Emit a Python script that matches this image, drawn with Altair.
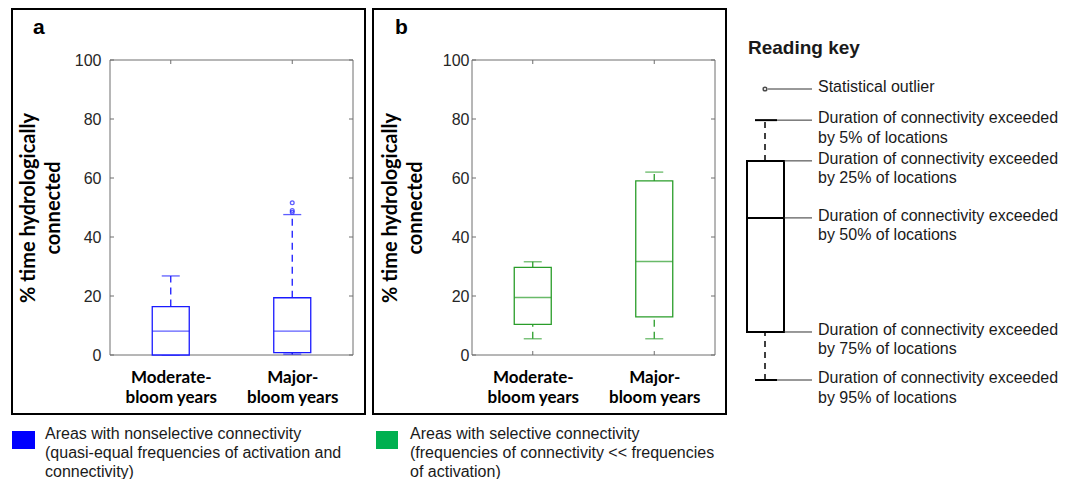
import altair as alt
import pandas as pd

# ---------------- data ----------------
categories = ["Moderate-bloom years", "Major-bloom years"]

# panel a (nonselective connectivity)
a_low = [0.0, 0.3]
a_q1 = [0.0, 0.8]
a_median = [8.1, 8.1]
a_q3 = [16.4, 19.4]
a_high = [26.8, 47.6]
a_outlier_cat = ["Major-bloom years", "Major-bloom years", "Major-bloom years"]
a_outlier_val = [51.6, 49.0, 48.4]

# panel b (selective connectivity)
b_low = [5.5, 5.5]
b_q1 = [10.4, 12.9]
b_median = [19.5, 31.7]
b_q3 = [29.7, 59.0]
b_high = [31.6, 62.0]

y_ticks = [0, 20, 40, 60, 80, 100]

# reading key (schematic levels)
key_levels = ["outlier", "p5", "p25", "p50", "p75", "p95"]
key_values = [100.0, 89.3, 75.3, 55.7, 16.5, 0.0]
key_labels = [
    "Statistical outlier",
    "Duration of connectivity exceeded\nby 5% of locations",
    "Duration of connectivity exceeded\nby 25% of locations",
    "Duration of connectivity exceeded\nby 50% of locations",
    "Duration of connectivity exceeded\nby 75% of locations",
    "Duration of connectivity exceeded\nby 95% of locations",
]

panel_letters = ["a", "b"]
y_title = ["% time hydrologically", "connected"]
legend_a = "Areas with nonselective connectivity\n(quasi-equal frequencies of activation and\nconnectivity)"
legend_b = "Areas with selective connectivity\n(frequencies of connectivity << frequencies\nof activation)"
key_title = "Reading key"

# ---------------- layout / style ----------------
W, H = 1062, 471
PT, PB = 52, 347
BOLD = "Lato"
SANS = "Liberation Sans"
FRAME = "#6e6e6e"
BLUE = "#1a1aff"
GREEN = "#2a9d2a"
BOX_W = 37
CAP_W = 18

label_expr = ("[slice(datum.label, 0, indexof(datum.label, '-') + 1), "
              "slice(datum.label, indexof(datum.label, '-') + 1)]")


def panel(low, q1, med, q3, high, color, x0, x1, fx0, fx1, letter, lx, lab_pad,
          out_cat=None, out_val=None):
    df = pd.DataFrame({"cat": categories, "low": low, "q1": q1, "med": med,
                       "q3": q3, "high": high})
    xs = alt.Scale(type="point", domain=categories, range=[x0, x1], padding=0.5)
    ys = alt.Scale(domain=[0, 100], range=[PB, PT], nice=False, zero=False)
    x_axis = alt.Axis(orient="bottom", offset=PB - H, domain=False, ticks=False,
                      tickSize=0, grid=False, labelExpr=label_expr, labelFont=BOLD,
                      labelFontSize=17, labelFontWeight="bold", labelColor="black",
                      labelPadding=27, labelBaseline="alphabetic", labelLineHeight=20,
                      labelAngle=0, title="")
    y_axis = alt.Axis(orient="left", offset=-x0, values=y_ticks, domain=False,
                      ticks=False, tickSize=0, grid=False, labelFont=SANS,
                      labelFontSize=16, labelColor="#262626", labelPadding=lab_pad,
                      title=y_title, titleFont=BOLD, titleFontSize=20,
                      titleFontWeight="bold", titleColor="black", titleAngle=270,
                      titleX=-76, titleY=(PT + PB) / 2, titleAlign="center",
                      titleBaseline="alphabetic", titleLineHeight=25)
    X = alt.X("cat:N", scale=xs, axis=x_axis)

    def Y(f):
        return alt.Y(f, scale=ys, axis=y_axis)

    base = alt.Chart(df)
    layers = []
    layers.append(alt.Chart(pd.DataFrame({"d": [0]})).mark_rect(
        fill="transparent", stroke="black", strokeWidth=2).encode(
        x=alt.value(fx0), x2=alt.value(fx1), y=alt.value(1), y2=alt.value(406)))
    layers.append(alt.Chart(pd.DataFrame({"d": [0]})).mark_rect(
        fill="transparent", stroke=FRAME, strokeWidth=1).encode(
        x=alt.value(x0), x2=alt.value(x1), y=alt.value(PT), y2=alt.value(PB)))
    tick_df = pd.DataFrame({"v": y_ticks})
    layers.append(alt.Chart(tick_df).mark_rule(color=FRAME).encode(
        y=Y("v:Q"), x=alt.value(x0), x2=alt.value(x0 + 4)))
    layers.append(alt.Chart(tick_df).mark_rule(color=FRAME).encode(
        y=Y("v:Q"), x=alt.value(x1 - 4), x2=alt.value(x1)))
    cat_df = pd.DataFrame({"cat": categories})
    layers.append(alt.Chart(cat_df).mark_rule(color=FRAME).encode(
        x=X, y=alt.value(PT), y2=alt.value(PT + 4)))
    layers.append(alt.Chart(cat_df).mark_rule(color=FRAME).encode(
        x=X, y=alt.value(PB - 4), y2=alt.value(PB)))
    # whiskers
    layers.append(base.mark_rule(color=color, strokeWidth=1.3, strokeDash=[7, 5]).encode(
        x=X, y=Y("q3:Q"), y2="high:Q"))
    layers.append(base.mark_rule(color=color, strokeWidth=1.3, strokeDash=[7, 5]).encode(
        x=X, y=Y("low:Q"), y2="q1:Q"))
    layers.append(base.mark_tick(color=color, size=CAP_W, thickness=1.3).encode(
        x=X, y=Y("high:Q")))
    layers.append(base.mark_tick(color=color, size=CAP_W, thickness=1.3).encode(
        x=X, y=Y("low:Q")))
    # boxes
    layers.append(base.mark_bar(size=BOX_W, fill="white", stroke=color,
                                strokeWidth=1.3).encode(x=X, y=Y("q1:Q"), y2="q3:Q"))
    layers.append(base.mark_tick(color=color, size=BOX_W, thickness=1.3).encode(
        x=X, y=Y("med:Q")))
    if out_cat is not None:
        odf = pd.DataFrame({"cat": out_cat, "v": out_val})
        layers.append(alt.Chart(odf).mark_point(shape="circle", size=14, filled=False,
                                                color=color, strokeWidth=1.3).encode(
            x=X, y=Y("v:Q")))
    layers.append(alt.Chart(pd.DataFrame({"t": [letter]})).mark_text(
        font=SANS, fontSize=21, fontWeight="bold", align="left",
        baseline="alphabetic", color="black").encode(
        text="t:N", x=alt.value(lx), y=alt.value(26)))
    return alt.layer(*layers)


panel_a = panel(a_low, a_q1, a_median, a_q3, a_high, BLUE, 102, 345, 4, 357,
                panel_letters[0], 25, 9, a_outlier_cat, a_outlier_val)
panel_b = panel(b_low, b_q1, b_median, b_q3, b_high, GREEN, 464, 707, 365, 718,
                panel_letters[1], 387, 3)

# ---------------- reading key ----------------
kv = dict(zip(key_levels, key_values))
ks = alt.Scale(domain=[0, 100], range=[372, 81], nice=False, zero=False)
KX, KB0, KB1, KC0, KC1, KL1, KT = 757, 739, 776, 747, 769, 804, 810
key_df = pd.DataFrame({"level": key_levels, "v": key_values, "label": key_labels})
stat_df = pd.DataFrame({"low": [kv["p95"]], "q1": [kv["p75"]], "med": [kv["p50"]],
                        "q3": [kv["p25"]], "high": [kv["p5"]], "out": [kv["outlier"]]})


def KY(f):
    return alt.Y(f, scale=ks, axis=None)


kb = alt.Chart(stat_df)
key_layers = [
    kb.mark_rule(color="black", strokeWidth=1.5, strokeDash=[6, 5]).encode(
        x=alt.value(KX), y=KY("q3:Q"), y2="high:Q"),
    kb.mark_rule(color="black", strokeWidth=1.5, strokeDash=[6, 5]).encode(
        x=alt.value(KX), y=KY("low:Q"), y2="q1:Q"),
    kb.mark_rect(fill="white", stroke="black", strokeWidth=2).encode(
        x=alt.value(KB0), x2=alt.value(KB1), y=KY("q1:Q"), y2="q3:Q"),
    kb.mark_rule(color="black", strokeWidth=2).encode(
        x=alt.value(KB0), x2=alt.value(KB1), y=KY("med:Q")),
    kb.mark_rule(color="black", strokeWidth=2).encode(
        x=alt.value(KC0), x2=alt.value(KC1), y=KY("high:Q")),
    kb.mark_rule(color="black", strokeWidth=2).encode(
        x=alt.value(KC0), x2=alt.value(KC1), y=KY("low:Q")),
    kb.mark_point(shape="circle", size=14, filled=False, color="black",
                  strokeWidth=1.5).encode(x=alt.value(KX), y=KY("out:Q")),
    alt.Chart(key_df).transform_filter(alt.datum.level == "outlier").mark_rule(
        color="#333333").encode(x=alt.value(KX + 3), x2=alt.value(KL1), y=KY("v:Q")),
    alt.Chart(key_df).transform_filter(
        alt.FieldOneOfPredicate(field="level", oneOf=["p5", "p95"])).mark_rule(
        color="#333333").encode(x=alt.value(KC1), x2=alt.value(KL1), y=KY("v:Q")),
    alt.Chart(key_df).transform_filter(
        alt.FieldOneOfPredicate(field="level", oneOf=["p25", "p50", "p75"])).mark_rule(
        color="#333333").encode(x=alt.value(KB1), x2=alt.value(KL1), y=KY("v:Q")),
    alt.Chart(key_df).mark_text(font=SANS, fontSize=16, align="left",
                                baseline="alphabetic", lineBreak="\n", lineHeight=19.5,
                                dy=3, color="#1a1a1a").encode(
        text="label:N", x=alt.value(KT), y=KY("v:Q")),
]
key = alt.layer(*key_layers)

# ---------------- annotations ----------------
def text_layer(txt, x, y, size, weight="normal", font=SANS, lh=19):
    return alt.Chart(pd.DataFrame({"t": [txt]})).mark_text(
        font=font, fontSize=size, fontWeight=weight, align="left",
        baseline="alphabetic", lineBreak="\n", lineHeight=lh, color="#1a1a1a").encode(
        text="t:N", x=alt.value(x), y=alt.value(y))


def square(x0, x1, color):
    return alt.Chart(pd.DataFrame({"d": [0]})).mark_rect(fill=color).encode(
        x=alt.value(x0), x2=alt.value(x1), y=alt.value(423), y2=alt.value(441))


annotations = [
    text_layer(key_title, 740, 46, 19, "bold"),
    square(4, 27, "#0000ff"),
    square(368, 390, "#00b050"),
    text_layer(legend_a, 37, 431, 16),
    text_layer(legend_b, 402, 431, 16),
]

chart = alt.layer(panel_a, panel_b, key, *annotations).resolve_scale(
    x="independent", y="independent").properties(
    width=W, height=H, autosize=alt.AutoSizeParams(type="none"), padding=0
).configure_view(strokeWidth=0)

chart.save("out.html", embed_options={"renderer": "svg", "actions": False})
